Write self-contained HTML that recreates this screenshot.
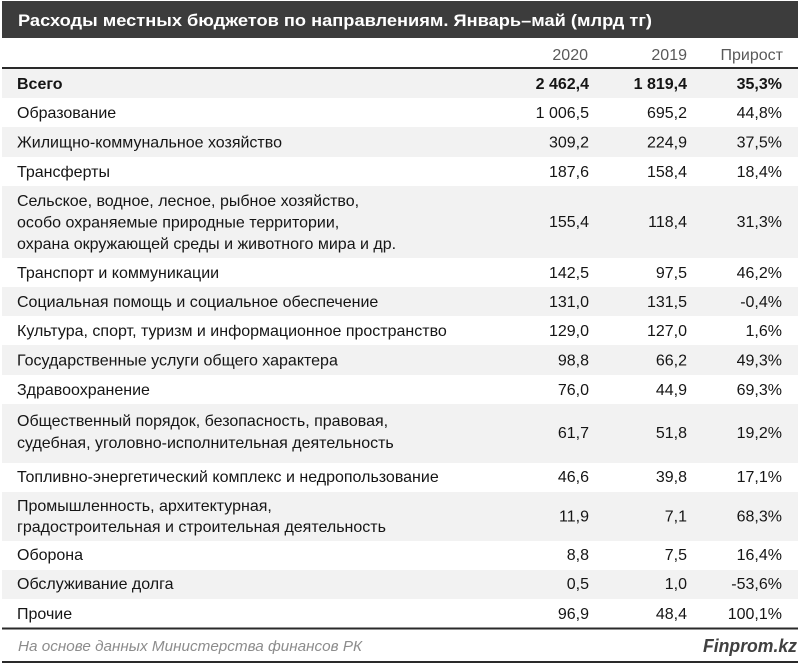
<!DOCTYPE html>
<html>
<head>
<meta charset="utf-8">
<style>
html,body{margin:0;padding:0;background:#fff;}
svg{display:block;}
text{font-family:"Liberation Sans","DejaVu Sans",sans-serif;}
.l{font-size:16px;fill:#151515;}
.n{font-size:16px;fill:#151515;text-anchor:end;}
.b{font-weight:bold;}
.h{font-size:16px;fill:#595959;text-anchor:end;}
</style>
</head>
<body>
<svg width="800" height="664" viewBox="0 0 800 664" xmlns="http://www.w3.org/2000/svg">
<rect x="0" y="0" width="800" height="664" fill="#ffffff"/>
<!-- title bar -->
<rect x="2" y="1" width="796" height="37" fill="#3c3c3c"/>
<text x="18" y="26" font-size="17" font-weight="bold" fill="#ffffff" textLength="634" lengthAdjust="spacingAndGlyphs">Расходы местных бюджетов по направлениям. Январь–май (млрд тг)</text>

<!-- header -->
<text class="h" x="588" y="60">2020</text>
<text class="h" x="687" y="60">2019</text>
<text class="h" x="783" y="60">Прирост</text>
<rect x="2" y="67" width="796" height="2" fill="#2a2a2a"/>

<!-- stripes -->
<g fill="#f2f2f2">
<rect x="2" y="69" width="796" height="29"/>
<rect x="2" y="127" width="796" height="30"/>
<rect x="2" y="186" width="796" height="72"/>
<rect x="2" y="287" width="796" height="29"/>
<rect x="2" y="345" width="796" height="30"/>
<rect x="2" y="404" width="796" height="59"/>
<rect x="2" y="492" width="796" height="49"/>
<rect x="2" y="570" width="796" height="29"/>
</g>

<!-- rows -->
<text class="l b" x="17" y="89">Всего</text>
<text class="n b" x="589" y="89">2 462,4</text>
<text class="n b" x="687" y="89">1 819,4</text>
<text class="n b" x="782" y="89">35,3%</text>

<text class="l" x="17" y="118">Образование</text>
<text class="n" x="589" y="118">1 006,5</text>
<text class="n" x="687" y="118">695,2</text>
<text class="n" x="782" y="118">44,8%</text>

<text class="l" x="17" y="147.5">Жилищно-коммунальное хозяйство</text>
<text class="n" x="589" y="147.5">309,2</text>
<text class="n" x="687" y="147.5">224,9</text>
<text class="n" x="782" y="147.5">37,5%</text>

<text class="l" x="17" y="177">Трансферты</text>
<text class="n" x="589" y="177">187,6</text>
<text class="n" x="687" y="177">158,4</text>
<text class="n" x="782" y="177">18,4%</text>

<text class="l" x="17" y="206">Сельское, водное, лесное, рыбное хозяйство,</text>
<text class="l" x="17" y="227.5">особо охраняемые природные территории,</text>
<text class="l" x="17" y="249">охрана окружающей среды и животного мира и др.</text>
<text class="n" x="589" y="227">155,4</text>
<text class="n" x="687" y="227">118,4</text>
<text class="n" x="782" y="227">31,3%</text>

<text class="l" x="17" y="278">Транспорт и коммуникации</text>
<text class="n" x="589" y="278">142,5</text>
<text class="n" x="687" y="278">97,5</text>
<text class="n" x="782" y="278">46,2%</text>

<text class="l" x="17" y="307">Социальная помощь и социальное обеспечение</text>
<text class="n" x="589" y="307">131,0</text>
<text class="n" x="687" y="307">131,5</text>
<text class="n" x="782" y="307">-0,4%</text>

<text class="l" x="17" y="336">Культура, спорт, туризм и информационное пространство</text>
<text class="n" x="589" y="336">129,0</text>
<text class="n" x="687" y="336">127,0</text>
<text class="n" x="782" y="336">1,6%</text>

<text class="l" x="17" y="365.5">Государственные услуги общего характера</text>
<text class="n" x="589" y="365.5">98,8</text>
<text class="n" x="687" y="365.5">66,2</text>
<text class="n" x="782" y="365.5">49,3%</text>

<text class="l" x="17" y="395">Здравоохранение</text>
<text class="n" x="589" y="395">76,0</text>
<text class="n" x="687" y="395">44,9</text>
<text class="n" x="782" y="395">69,3%</text>

<text class="l" x="17" y="426">Общественный порядок, безопасность, правовая,</text>
<text class="l" x="17" y="448">судебная, уголовно-исполнительная деятельность</text>
<text class="n" x="589" y="438">61,7</text>
<text class="n" x="687" y="438">51,8</text>
<text class="n" x="782" y="438">19,2%</text>

<text class="l" x="17" y="482">Топливно-энергетический комплекс и недропользование</text>
<text class="n" x="589" y="482">46,6</text>
<text class="n" x="687" y="482">39,8</text>
<text class="n" x="782" y="482">17,1%</text>

<text class="l" x="17" y="511">Промышленность, архитектурная,</text>
<text class="l" x="17" y="532">градостроительная и строительная деятельность</text>
<text class="n" x="589" y="521.5">11,9</text>
<text class="n" x="687" y="521.5">7,1</text>
<text class="n" x="782" y="521.5">68,3%</text>

<text class="l" x="17" y="560">Оборона</text>
<text class="n" x="589" y="560">8,8</text>
<text class="n" x="687" y="560">7,5</text>
<text class="n" x="782" y="560">16,4%</text>

<text class="l" x="17" y="589">Обслуживание долга</text>
<text class="n" x="589" y="589">0,5</text>
<text class="n" x="687" y="589">1,0</text>
<text class="n" x="782" y="589">-53,6%</text>

<text class="l" x="17" y="619">Прочие</text>
<text class="n" x="589" y="619">96,9</text>
<text class="n" x="687" y="619">48,4</text>
<text class="n" x="782" y="619">100,1%</text>

<rect x="2" y="627.5" width="796" height="2" fill="#2a2a2a"/>

<!-- footer -->
<text x="18" y="651" font-size="15" font-style="italic" fill="#8c8c8c" textLength="344" lengthAdjust="spacingAndGlyphs">На основе данных Министерства финансов РК</text>
<text x="703" y="652" font-size="18" font-style="italic" font-weight="bold" fill="#404040" textLength="94" lengthAdjust="spacingAndGlyphs">Finprom.kz</text>
<rect x="2" y="661" width="796" height="2" fill="#2a2a2a"/>
</svg>
</body>
</html>
